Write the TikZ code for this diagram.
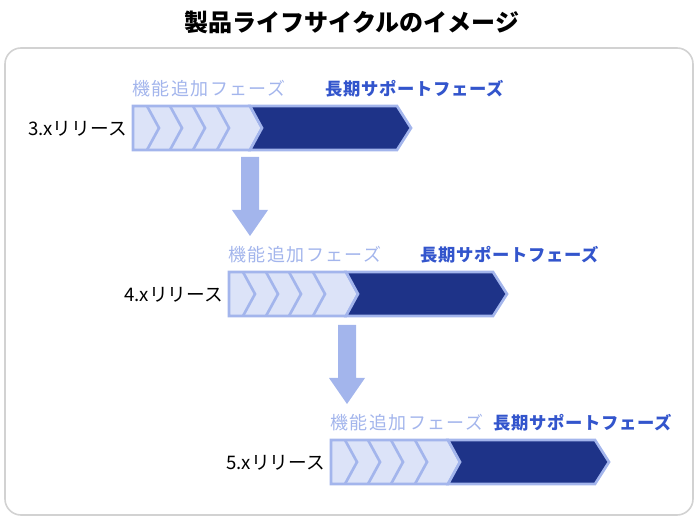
\documentclass[tikz,border=0pt]{standalone}
\usepackage{fontspec}
\setmainfont{Noto Sans CJK JP}
\usetikzlibrary{positioning}
\definecolor{lightbar}{HTML}{DCE3F8}
\definecolor{edgeblue}{HTML}{A3B5EC}
\definecolor{darkbar}{HTML}{1E3388}
\definecolor{phaseblue}{HTML}{3355CC}

\begin{document}
\begin{tikzpicture}[
  x=0.75pt,
  y=-0.75pt,
  addph/.style={font=\fontsize{13.5}{13.5}\selectfont\addfontfeatures{LetterSpace=8}, text=edgeblue, anchor=west, inner sep=0pt},
  ltsph/.style={font=\bfseries\fontsize{13}{13}\selectfont\addfontfeatures{LetterSpace=4}, text=phaseblue, anchor=west, inner sep=0pt},
  rel/.style={font=\fontsize{14}{14}\selectfont, anchor=east, inner sep=0pt},
  chev/.style={draw=edgeblue, line width=2pt, fill=lightbar},
  flow/.style={fill=edgeblue, draw=none}
  ]
    \useasboundingbox (0,0) rectangle (700,520);
    % title and frame
    \node[font=\bfseries\fontsize{18}{18}\selectfont, inner sep=0pt] (title) at (352,22) {製品ライフサイクルのイメージ};
    \draw[gray!35, line width=1.2pt, rounded corners=12pt] (5,48) rectangle (693,515);

% three releases
\foreach \n/\dx/\dy/\lx in {3/0/0/325, 4/96/166/324, 5/198/334/295} {
  \begin{scope}[shift={(\dx,\dy)}]
    % light part with chevrons
    \draw[chev] (133,106) -- (250,106) -- (262,128) -- (250,150) -- (133,150) -- cycle;
    \foreach \c in {157,180,203,227}
      \draw[edgeblue, line width=2pt] (\c-10,106) -- (\c+2,128) -- (\c-10,150);
    % long term support part
    \draw[fill=darkbar, draw=edgeblue, line width=2pt] (250,106) -- (397,106) -- (411,128) -- (397,150) -- (250,150) -- (262,128) -- cycle;
    \node[rel] (rel\n) at (127,129) {\n.xリリース};
    \node[addph] (add\n) at (132,89) {機能追加フェーズ};
    \node[ltsph] (lts\n) at (\lx,89) {長期サポートフェーズ};
  \end{scope}
}

% arrows between releases
\draw[flow] (241,157) -- (259,157) -- (259,210) -- (268,210) -- (250,236) -- (232,210) -- (241,210) -- cycle;
\draw[flow] (338,325) -- (356,325) -- (356,378) -- (365,378) -- (347,404) -- (329,378) -- (338,378) -- cycle;

\end{tikzpicture}
\end{document}
